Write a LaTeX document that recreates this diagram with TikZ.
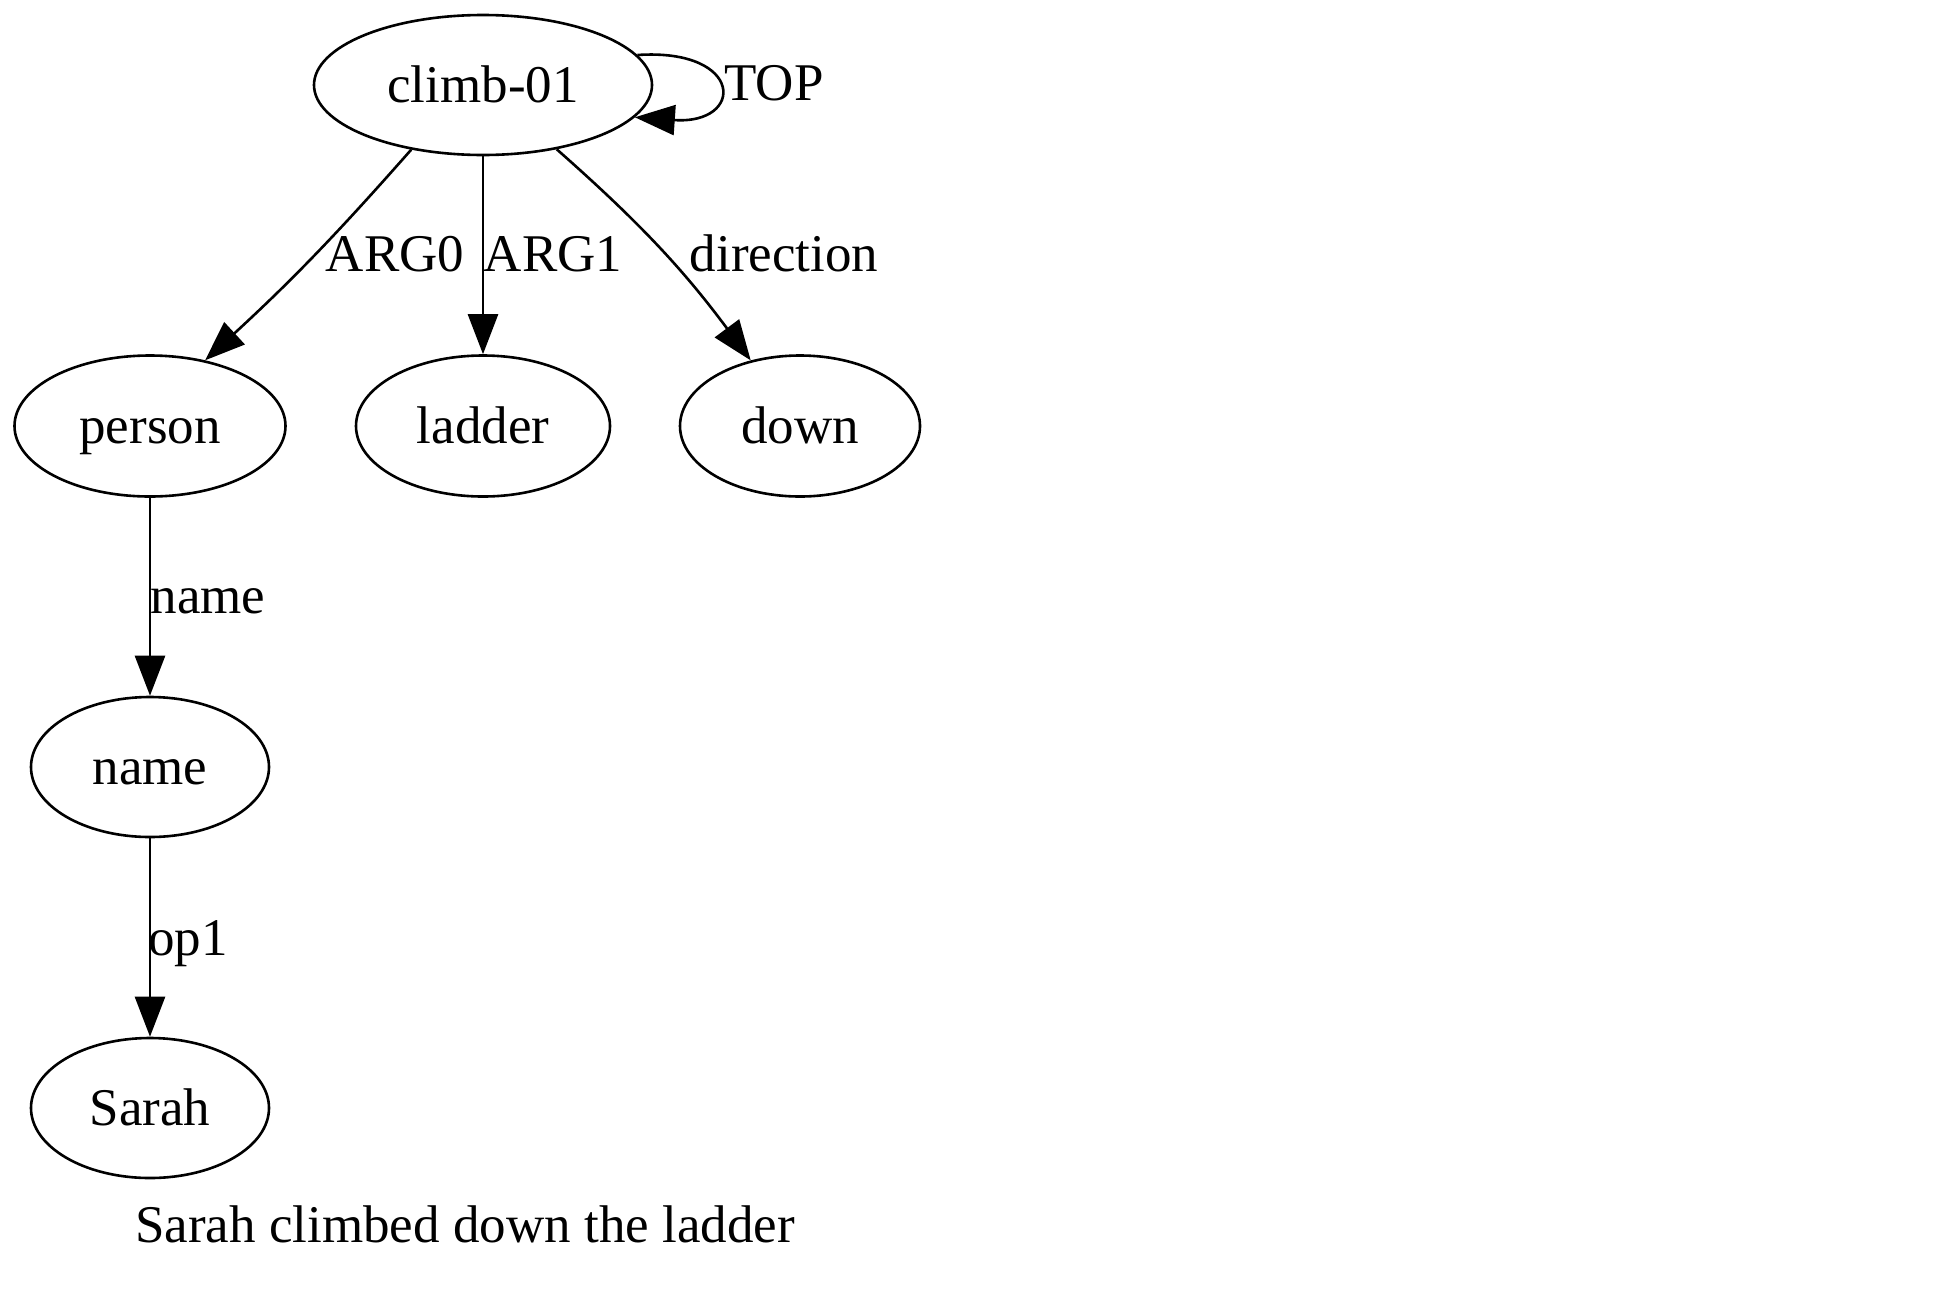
\documentclass[tikz,border=0pt]{standalone}
\usepackage{fontspec}
\setmainfont{Liberation Serif}
\usetikzlibrary{arrows.meta,shapes.geometric}
\begin{document}
\begin{tikzpicture}[x=1pt,y=-1pt,
  amrnode/.style={draw, ellipse, line width=2.6pt, inner sep=0pt, text height=40pt, text depth=6pt, font=\fontsize{53}{60}\selectfont},
  edge/.style={draw, line width=2.6pt, -{Triangle[length=40pt,width=30pt]}},
  lbl/.style={anchor=base, inner sep=0pt, font=\fontsize{53}{60}\selectfont}]
\path[fill=white,use as bounding box] (0,0) rectangle (1958,1312);

\node[amrnode, minimum width=338pt, minimum height=140pt] (climb) at (483,85) {climb-01};
\node[amrnode, minimum width=271pt, minimum height=141pt] (person) at (150,426) {person};
\node[amrnode, minimum width=254pt, minimum height=141pt] (ladder) at (483,426) {ladder};
\node[amrnode, minimum width=240pt, minimum height=141pt] (down) at (800,426) {down};
\node[amrnode, minimum width=238pt, minimum height=140pt] (name) at (150,767) {name};
\node[amrnode, minimum width=238pt, minimum height=140pt] (sarah) at (150,1108) {Sarah};

\draw[edge] (climb.11) .. controls (745,48) and (745,125) .. (climb.-12);
\draw[edge] (climb.222) to[bend left=3] (person.50);
\draw[edge] (climb) -- (ladder);
\draw[edge] (climb) to[bend left=6] (down);
\draw[edge] (person) -- (name);
\draw[edge] (name) -- (sarah);

\node[lbl] (lTOP) at (774,100) {TOP};
\node[lbl] (lARG0) at (395,271) {ARG0};
\node[lbl] (lARG1) at (553,271) {ARG1};
\node[lbl] (ldir) at (784,271) {direction};
\node[lbl] (lname) at (208,613) {name};
\node[lbl] (lop1) at (188,955) {op1};
\node[lbl] (caption) at (465,1242) {Sarah climbed down the ladder};
\end{tikzpicture}
\end{document}
